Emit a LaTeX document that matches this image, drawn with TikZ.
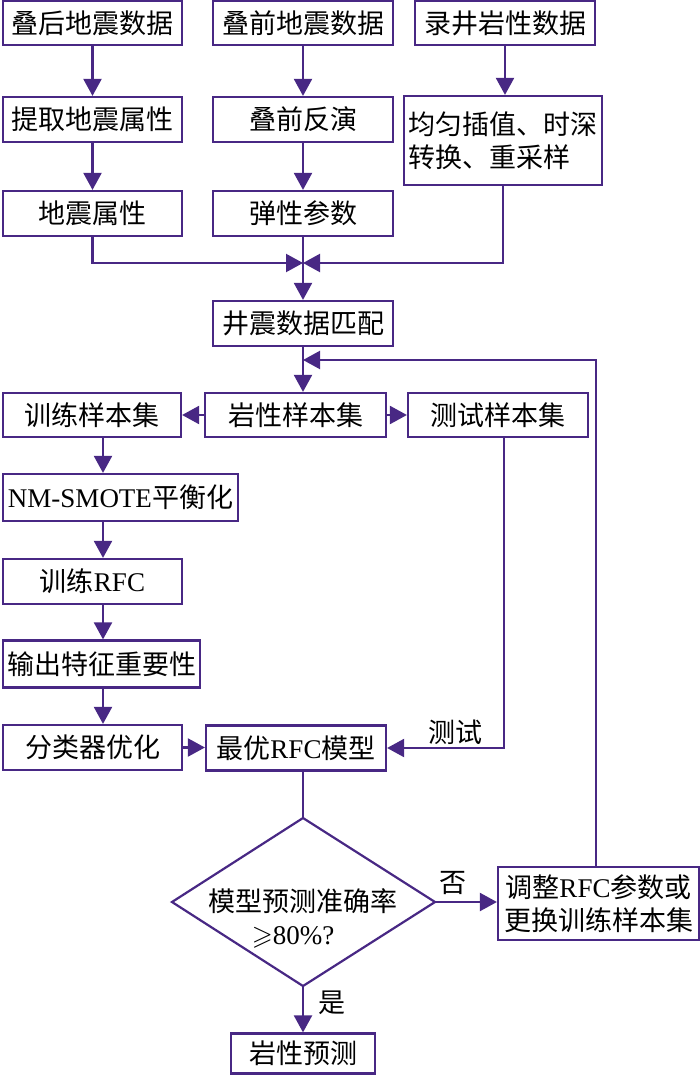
\documentclass[tikz,border=0pt]{standalone}
\usepackage{fontspec}
\usepackage{amssymb}
\setmainfont{Liberation Serif}
\newfontfamily\zh{Noto Sans CJK SC}
\usetikzlibrary{arrows.meta}
\definecolor{pp}{RGB}{72,40,132}
\newcommand\lat[1]{{\rmfamily #1}}
\begin{document}
\begin{tikzpicture}[x=1pt,y=-1pt,
  box/.style={draw=pp, line width=2.2pt, inner sep=0pt, align=center, font=\fontsize{27}{33}\selectfont\zh, text=black},
  conn/.style={draw=pp, line width=2.2pt, -{Triangle[length=17pt,width=18pt]}},
  plain/.style={draw=pp, line width=2.2pt},
  lbl/.style={font=\fontsize{27}{33}\selectfont\zh, inner sep=0pt, text=black}]
\useasboundingbox (0,0) rectangle (700,1075);
% top rows
\node[box, minimum width=179pt, minimum height=44pt] (a1) at (92.5,23) {叠后地震数据};
\node[box, minimum width=180pt, minimum height=44pt] (a2) at (303,23) {叠前地震数据};
\node[box, minimum width=180pt, minimum height=44pt] (a3) at (505,23) {录井岩性数据};
\node[box, minimum width=179pt, minimum height=45pt] (b1) at (92.5,119.5) {提取地震属性};
\node[box, minimum width=180pt, minimum height=45pt] (b2) at (303,119.5) {叠前反演};
\node[box, minimum width=198pt, minimum height=89pt, align=left] (b3) at (503,140.5) {均匀插值、时深\\转换、重采样};
\node[box, minimum width=179pt, minimum height=45pt] (c1) at (92.5,213.5) {地震属性};
\node[box, minimum width=180pt, minimum height=45pt] (c2) at (303,213.5) {弹性参数};
\node[box, minimum width=180pt, minimum height=45pt] (d) at (303,323.5) {井震数据匹配};
\node[box, minimum width=178pt, minimum height=44pt] (e1) at (92,415) {训练样本集};
\node[box, minimum width=181pt, minimum height=44pt] (e2) at (295.5,415) {岩性样本集};
\node[box, minimum width=180pt, minimum height=44pt] (e3) at (498,415) {测试样本集};
\node[box, minimum width=235pt, minimum height=47pt] (f) at (120.5,497.5) {\lat{NM-SMOTE}平衡化};
\node[box, minimum width=179pt, minimum height=45pt] (g) at (92.5,581.5) {训练\lat{RFC}};
\node[box, minimum width=197pt, minimum height=47pt] (h) at (101.5,664) {输出特征重要性};
\node[box, minimum width=179pt, minimum height=45pt] (i) at (92.5,747.5) {分类器优化};
\node[box, minimum width=180pt, minimum height=45pt] (jm) at (296,748) {最优\lat{RFC}模型};
\node[box, minimum width=201pt, minimum height=73pt] (l) at (598.5,903.5) {调整\lat{RFC}参数或\\更换训练样本集};
\node[box, minimum width=144pt, minimum height=40pt] (m) at (303,1053.5) {岩性预测};
% diamond
\coordinate (kt) at (303,818);
\coordinate (kr) at (435,902);
\coordinate (kb) at (303,986);
\coordinate (kl) at (172,902);
\draw[plain] (kt) -- (kr) -- (kb) -- (kl) -- cycle;
\node[lbl, align=center] (k) at (303,918) {模型预测准确率\\$\geqslant$\lat{80\%?}\hspace*{20pt}};
% helper coordinates
\coordinate (j) at (303,263);
\coordinate (col) at (103,0);
\coordinate (fb) at (596,360);
\coordinate (fbend) at (303,360);
\coordinate (t) at (504,748);
% connectors
\draw[conn] (a1) -- (b1);
\draw[conn] (b1) -- (c1);
\draw[conn] (a2) -- (b2);
\draw[conn] (b2) -- (c2);
\draw[conn] (a3.south) -- (a3.south |- b3.north);
\draw[conn] (c1.south) |- (j);
\draw[conn] (b3.south) |- (j);
\draw[conn] (c2.south) -- (d.north);
\draw[conn] (d.south) -- (d.south |- e2.north);
\draw[conn] (l.north -| fb) -- (fb) -- (fbend);
\draw[conn] (e2.west) -- (e1.east);
\draw[conn] (e2.east) -- (e3.west);
\draw[conn] (e1.south -| col) -- (f.north -| col);
\draw[conn] (f.south -| col) -- (g.north -| col);
\draw[conn] (g.south -| col) -- (h.north -| col);
\draw[conn] (h.south -| col) -- (i.north -| col);
\draw[conn] (i.east) -- (i.east -| jm.west);
\draw[conn] (e3.south -| t) -- (t) -- (jm.east |- t);
\node[lbl] (lt) at (455,732) {测试};
\draw[plain] (jm.south -| kt) -- (kt);
\draw[conn] (kr) -- (kr -| l.west);
\node[lbl] (no) at (453,883) {否};
\draw[conn] (kb) -- (m.north);
\node[lbl] (yes) at (332,1003) {是};
\end{tikzpicture}
\end{document}
